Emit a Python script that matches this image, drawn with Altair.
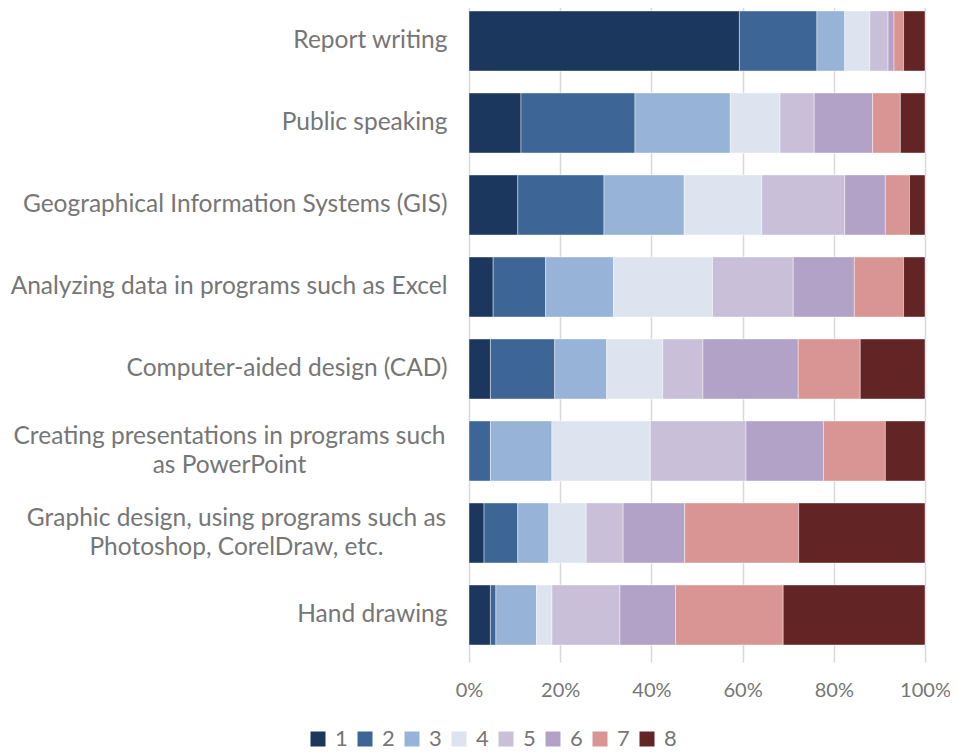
import altair as alt
import pandas as pd

categories = [
    "Report writing",
    "Public speaking",
    "Geographical Information Systems (GIS)",
    "Analyzing data in programs such as Excel",
    "Computer-aided design (CAD)",
    "Creating presentations in programs such as PowerPoint",
    "Graphic design, using programs such as Photoshop, CorelDraw, etc.",
    "Hand drawing",
]
wrapped = {
    "Creating presentations in programs such as PowerPoint": ["Creating presentations in programs such", "as PowerPoint"],
    "Graphic design, using programs such as Photoshop, CorelDraw, etc.": ["Graphic design, using programs such as", "Photoshop, CorelDraw, etc."],
}
wrapped_pad = {
    "Creating presentations in programs such as PowerPoint": 240,
    "Graphic design, using programs such as Photoshop, CorelDraw, etc.": 233,
}
ratings = ["1", "2", "3", "4", "5", "6", "7", "8"]
values = [
    [59.3, 17.0, 6.1, 5.5, 4.0, 1.3, 2.1, 4.7],
    [11.4, 25.0, 20.9, 10.9, 7.5, 12.8, 6.1, 5.4],
    [10.7, 18.9, 17.6, 17.0, 18.2, 8.9, 5.3, 3.4],
    [5.3, 11.5, 14.9, 21.7, 17.7, 13.4, 10.8, 4.7],
    [4.7, 14.1, 11.4, 12.3, 8.8, 20.9, 13.6, 14.2],
    [0.0, 4.7, 13.5, 21.6, 21.0, 17.0, 13.6, 8.7],
    [3.3, 7.4, 6.8, 8.2, 8.1, 13.5, 25.0, 27.7],
    [4.7, 1.2, 8.9, 3.4, 14.9, 12.2, 23.6, 31.1],
]
colors = ["#1b375e", "#3d6696", "#97b3d7", "#dde4ef", "#c9bfd8", "#b2a2c8", "#d99593", "#632425"]

rows = []
for c, vals in zip(categories, values):
    for i, (r, v) in enumerate(zip(ratings, vals)):
        rows.append({"skill": c, "rating": r, "order": i, "share": v})
df = pd.DataFrame(rows)

FONT = "Lato"
GREY = "#767676"

label_expr = "datum.value"
for k, lines in wrapped.items():
    arr = "[" + ", ".join("'" + l + "'" for l in lines) + "]"
    label_expr = f"datum.value == '{k}' ? {arr} : ({label_expr})"
wrap_test = " || ".join(f"datum.value == '{k}'" for k in wrapped)
pad_conds = [{"test": f"datum.value == '{k}'", "value": p} for k, p in wrapped_pad.items()]

chart = alt.Chart(df).mark_bar(stroke="white", strokeWidth=0.6, strokeOpacity=0.7).encode(
    y=alt.Y("skill:N", sort=categories, title=None,
            scale=alt.Scale(paddingInner=0.268, paddingOuter=0.134),
            axis=alt.Axis(domain=False, ticks=False, labelFontSize=24.5, labelFont=FONT,
                          labelColor=GREY, labelLimit=600, labelLineHeight=29,
                          labelExpr=label_expr,
                          labelAlign={"condition": {"test": wrap_test, "value": "center"}, "value": "right"},
                          labelOffset={"condition": {"test": wrap_test, "value": -14}, "value": 0},
                          labelPadding={"condition": pad_conds, "value": 22})),
    x=alt.X("share:Q", stack="normalize", title=None,
            scale=alt.Scale(domain=[0, 1]),
            axis=alt.Axis(format=".0%", values=[0, 0.2, 0.4, 0.6, 0.8, 1.0], domain=False,
                          grid=True, gridColor="#d9d9d9", gridWidth=1.5, labelFlush=False,
                          ticks=True, tickColor="#d9d9d9", tickSize=6, tickWidth=1.5,
                          labelFontSize=20, labelFont=FONT, labelColor=GREY, labelPadding=18)),
    color=alt.Color("rating:N", sort=ratings, scale=alt.Scale(domain=ratings, range=colors),
                    legend=alt.Legend(title=None, orient="none", direction="horizontal", columns=8,
                                      legendX=-162, legendY=728, symbolType="square", symbolSize=225,
                                      symbolStrokeWidth=0, labelFontSize=22, labelFont=FONT,
                                      labelColor=GREY, columnPadding=6, labelOffset=6)),
    order=alt.Order("order:Q"),
).properties(
    width=456, height=656,
    autosize=alt.AutoSizeParams(type="none"),
    padding={"left": 461, "top": -8, "right": 25, "bottom": 100},
).configure_view(stroke=None)

chart.save("out.html", embed_options={"renderer": "svg", "actions": False})
